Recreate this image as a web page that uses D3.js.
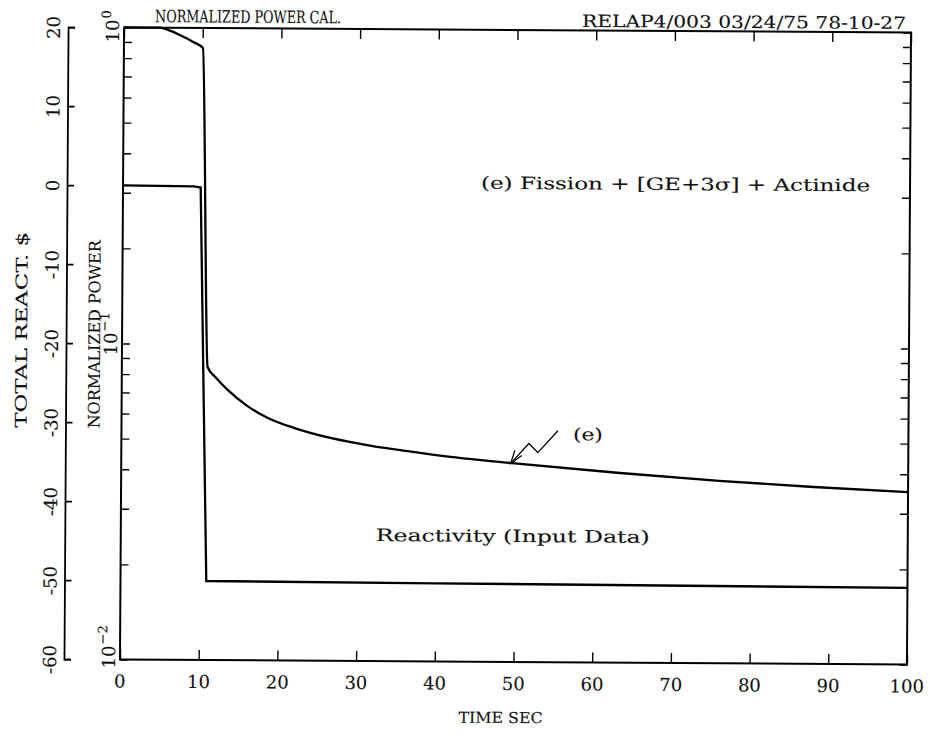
<!DOCTYPE html>
<html>
<head>
<meta charset="utf-8">
<script src="https://cdn.jsdelivr.net/npm/d3@7/dist/d3.min.js"></script>
<style>
  html, body { margin: 0; padding: 0; background: #fff; }
  svg { display: block; }
  text { font-family: "DejaVu Serif", "Liberation Serif", serif; fill: #111; stroke: #111; stroke-width: 0.12px; }
</style>
</head>
<body>
<svg id="chart" width="930" height="738"></svg>
<script>
// Time axis (s)
const timeTicks = [0, 10, 20, 30, 40, 50, 60, 70, 80, 90, 100];

// Total reactivity ($), input data
const reactTime  = [0, 9.0, 9.87, 10.9, 40, 100];
const reactValue = [0, -0.05, -0.2, -50.0, -50.1, -50.3];

// Normalized power, case (e): Fission + [GE+3sigma] + Actinide
const powerTime  = [0, 4.5, 6.0, 7.1, 8.8, 10.04, 10.89, 12.0, 13.5, 16.0, 18.6, 22.0,
                    26.0, 30.5, 35.0, 40.0, 50.0, 63.0, 76.0, 88.0, 100];
const powerValue = [1.0, 1.0, 0.976, 0.949, 0.903, 0.864, 0.0846, 0.0781, 0.0715, 0.0637, 0.0585, 0.0544,
                    0.0511, 0.0486, 0.0467, 0.0450, 0.0425, 0.0399, 0.0378, 0.0363, 0.0351];

// Axis tick labels
const reactTicks = [20, 10, 0, -10, -20, -30, -40, -50, -60];
const powerMajor = [1, 0.1, 0.01];
const powerMajorExp = ["0", "\u22121", "\u22122"];

// Texts
const titleLeft  = "NORMALIZED POWER CAL.";
const titleRight = "RELAP4/003 03/24/75 78-10-27";
const caseLabel  = "(e) Fission + [GE+3\u03c3] + Actinide";
const reactLabel = "Reactivity (Input Data)";
const curveTag   = "(e)";
const curveTagAt = 50.0;
const xTitle     = "TIME SEC";
const yReactTitle = "TOTAL REACT.  $";
const yPowerTitle = "NORMALIZED POWER";

const svg = d3.select("#chart");
svg.append("rect").attr("width", 930).attr("height", 738).attr("fill", "#fff");

// the whole plot sheet sits slightly skewed on the page
const g = svg.append("g").attr("transform", "rotate(0.37,515.5,346)");

const L = 122, R = 909, T = 30, B = 662;
const x = d3.scaleLinear([0, 100], [L, R]);
const yReact = d3.scaleLinear([-60, 20], [B, T]);
const yPow = d3.scaleLog([0.01, 1], [B, T]);

const ink = "#000";

// ---- frame with tick marks ----
function styleAxis(sel, w) {
  sel.selectAll("path.domain").remove();
  sel.selectAll("line").attr("stroke", ink).attr("stroke-width", w);
  sel.selectAll("text").remove();
}
g.append("g").attr("transform", `translate(0,${B})`)
  .call(d3.axisTop(x).tickValues(timeTicks).tickSize(10).tickFormat(""))
  .call(s => styleAxis(s, 1.4));
g.append("g").attr("transform", `translate(0,${T})`)
  .call(d3.axisBottom(x).tickValues(timeTicks).tickSize(10).tickFormat(""))
  .call(s => styleAxis(s, 1.4));
const logTicks = yPow.ticks();
g.append("g").attr("transform", `translate(${L},0)`)
  .call(d3.axisRight(yPow).tickValues(logTicks).tickSize(8).tickFormat(""))
  .call(s => styleAxis(s, 1.4));
g.append("g").attr("transform", `translate(${R},0)`)
  .call(d3.axisLeft(yPow).tickValues(logTicks).tickSize(8).tickFormat(""))
  .call(s => styleAxis(s, 1.4));

g.append("rect")
  .attr("x", L).attr("y", T).attr("width", R - L).attr("height", B - T)
  .attr("fill", "none").attr("stroke", ink).attr("stroke-width", 2);

// ---- time labels ----
g.append("g").selectAll("text").data(timeTicks).join("text")
  .attr("x", d => x(d)).attr("y", B + 28)
  .attr("text-anchor", "middle").attr("font-size", 18)
  .text(d => d);

g.append("text").attr("x", 461).attr("y", 723)
  .attr("font-size", 15).attr("textLength", 84).attr("lengthAdjust", "spacingAndGlyphs")
  .text(xTitle);

// ---- total reactivity axis (separate, left) ----
const reactAxisX = 66;
const ra = g.append("g").attr("transform", `translate(${reactAxisX},0)`)
  .call(d3.axisRight(yReact).tickValues(reactTicks).tickSize(7).tickSizeOuter(7)
    .tickFormat(d => String(d)));
ra.select("path.domain").attr("stroke", ink).attr("stroke-width", 1.8);
ra.selectAll("line").attr("stroke", ink).attr("stroke-width", 1.6);
ra.selectAll("text")
  .attr("x", 0).attr("y", 0).attr("dy", null)
  .attr("transform", "translate(-8,0) rotate(-90)")
  .attr("text-anchor", "middle").attr("font-size", 18)
  .attr("font-family", null).attr("fill", null);

g.append("text")
  .attr("transform", `translate(27,431) rotate(-90)`)
  .attr("font-size", 16).attr("textLength", 196).attr("lengthAdjust", "spacingAndGlyphs")
  .text(yReactTitle);

// ---- normalized power axis labels ----
const powLabelShift = [15, 12, 9];
powerMajor.forEach((v, i) => {
  const t = g.append("text")
    .attr("transform", `translate(${L - 5},${yPow(v) + powLabelShift[i]}) rotate(-90)`)
    .attr("font-size", 18);
  t.append("tspan").text("10");
  t.append("tspan").attr("dy", -8).attr("dx", 1).attr("font-size", 13).text(powerMajorExp[i]);
});

g.append("text")
  .attr("transform", `translate(100,431) rotate(-90)`)
  .attr("font-size", 16).attr("textLength", 188).attr("lengthAdjust", "spacingAndGlyphs")
  .text(yPowerTitle);

// ---- header ----
g.append("text").attr("x", 153).attr("y", 24.5)
  .attr("font-size", 17).attr("textLength", 186).attr("lengthAdjust", "spacingAndGlyphs")
  .text(titleLeft);
g.append("text").attr("x", 580).attr("y", 26.5)
  .attr("font-size", 17).attr("textLength", 324).attr("lengthAdjust", "spacingAndGlyphs")
  .text(titleRight);

// ---- curves ----
const reactLine = d3.line()
  .x((d, i) => x(reactTime[i]))
  .y(d => yReact(d));
g.append("path").datum(reactValue)
  .attr("d", reactLine)
  .attr("fill", "none").attr("stroke", ink).attr("stroke-width", 2.3)
  .attr("stroke-linejoin", "miter");

const powerLine = d3.line()
  .x((d, i) => x(powerTime[i]))
  .y(d => yPow(d))
  .curve(d3.curveMonotoneX);
g.append("path").datum(powerValue)
  .attr("d", powerLine)
  .attr("fill", "none").attr("stroke", ink).attr("stroke-width", 2.3)
  .attr("stroke-linejoin", "miter");

// ---- annotations ----
g.append("text").attr("x", 480).attr("y", 189)
  .attr("font-size", 17).attr("textLength", 389).attr("lengthAdjust", "spacingAndGlyphs")
  .text(caseLabel);

g.append("text").attr("x", 377).attr("y", 542)
  .attr("font-size", 17).attr("textLength", 274).attr("lengthAdjust", "spacingAndGlyphs")
  .text(reactLabel);

// zig-zag leader pointing at curve (e)
const k = powerTime.indexOf(curveTagAt);
const tipX = x(powerTime[k]), tipY = yPow(powerValue[k]);
const lead = g.append("g").attr("transform", `translate(${tipX - 4},${tipY})`);
lead.append("path")
  .attr("d", "M0,0 L18,-20 L27,-11 L47,-33")
  .attr("fill", "none").attr("stroke", ink).attr("stroke-width", 1.3);
lead.append("path")
  .attr("d", "M4,-13 L0,0 L11,-8")
  .attr("fill", "none").attr("stroke", ink).attr("stroke-width", 1.3);
lead.append("text").attr("x", 62).attr("y", -23.5)
  .attr("font-size", 17).attr("textLength", 30).attr("lengthAdjust", "spacingAndGlyphs")
  .text(curveTag);
</script>
</body>
</html>
